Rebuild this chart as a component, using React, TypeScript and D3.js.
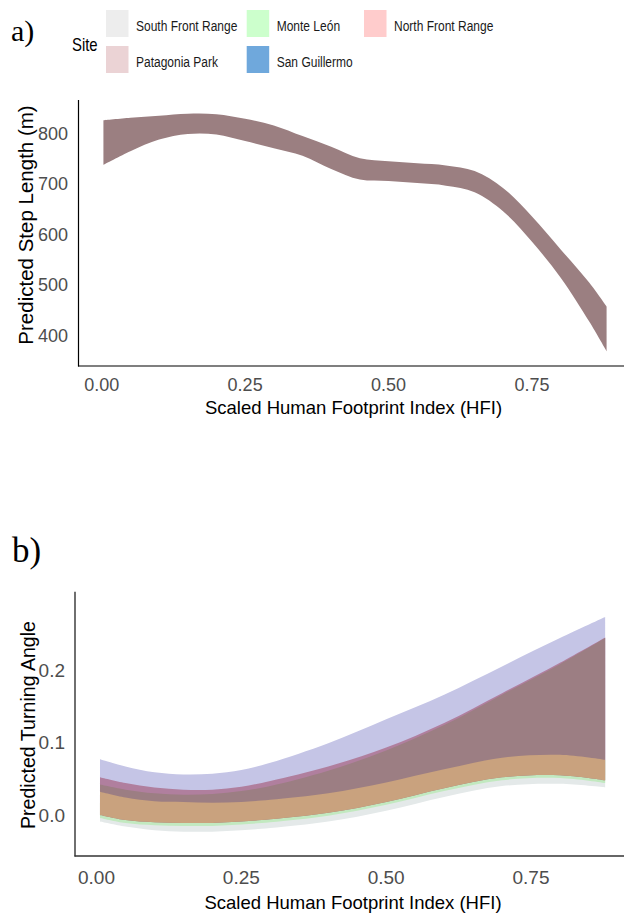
import React from "react";
import * as d3 from "d3";

// ---- legend ----
const sites = ["South Front Range", "Monte León", "North Front Range", "Patagonia Park", "San Guillermo"];
const siteColors = ["#EDEDED", "#CCFFCC", "#FFCCCC", "#EBD3D5", "#6FA8DC"];

// ---- panel a: step length ribbon ----
const hfiA = [0.003, 0.05, 0.1, 0.15, 0.2, 0.25, 0.3, 0.35, 0.4, 0.45, 0.5, 0.55, 0.6, 0.65, 0.7, 0.75, 0.8, 0.85, 0.88];
const stepUpper = [826, 831, 835, 839, 838, 829, 816, 795, 774, 751, 745, 741, 737, 726, 692, 636, 571, 505, 458];
const stepLower = [738, 765, 788, 799, 798, 785, 771, 756, 730, 709, 706, 702, 697, 684, 646, 586, 515, 428, 370];
const stepTicks = [400, 500, 600, 700, 800];

// ---- panel b: turning angle ribbons ----
const hfiB = [0.006, 0.05, 0.1, 0.15, 0.2, 0.25, 0.3, 0.4, 0.5, 0.6, 0.7, 0.8, 0.878];
const lavTop = [0.077, 0.067, 0.059, 0.056, 0.057, 0.062, 0.072, 0.099, 0.132, 0.166, 0.205, 0.244, 0.273];
const pinkTop = [0.052, 0.044, 0.038, 0.035, 0.035, 0.039, 0.047, 0.067, 0.093, 0.127, 0.168, 0.21, 0.245];
const mauveTop = [0.042, 0.035, 0.03, 0.028, 0.029, 0.033, 0.04, 0.061, 0.089, 0.124, 0.166, 0.208, 0.244];
const tanTop = [0.032, 0.024, 0.019, 0.018, 0.017, 0.018, 0.021, 0.03, 0.045, 0.063, 0.079, 0.083, 0.076];
const tanLow = [0.0, -0.007, -0.01, -0.011, -0.011, -0.009, -0.006, 0.003, 0.018, 0.037, 0.052, 0.055, 0.048];
const greenLow = [-0.004, -0.011, -0.014, -0.015, -0.015, -0.013, -0.01, -0.001, 0.014, 0.033, 0.048, 0.051, 0.044];
const greyLow = [-0.009, -0.016, -0.021, -0.023, -0.023, -0.021, -0.018, -0.009, 0.006, 0.025, 0.04, 0.043, 0.038];
const angleTicks = [0, 0.1, 0.2];

const hfiTicks = [0, 0.25, 0.5, 0.75];

const SANS = "'Liberation Sans', Arial, sans-serif";
const SERIF = "'Liberation Serif', 'Times New Roman', serif";
const TICK = "#4D4D4D";

type Pt = { x: number; lo: number; hi: number };
const zip = (xs: number[], lo: number[], hi: number[]): Pt[] => xs.map((x, i) => ({ x, lo: lo[i], hi: hi[i] }));

export default function App() {
  // scales panel a
  const xA = d3.scaleLinear().domain([0, 0.75]).range([101.7, 532]);
  const yA = d3.scaleLinear().domain([400, 800]).range([336, 133.5]);
  const areaA = d3
    .area<Pt>()
    .x((d) => xA(d.x))
    .y0((d) => yA(d.lo))
    .y1((d) => yA(d.hi))
    .curve(d3.curveCatmullRom.alpha(0.5));

  // scales panel b
  const xB = d3.scaleLinear().domain([0, 0.75]).range([96.5, 531]);
  const yB = d3.scaleLinear().domain([0, 0.2]).range([815, 670]);
  const areaB = d3
    .area<Pt>()
    .x((d) => xB(d.x))
    .y0((d) => yB(d.lo))
    .y1((d) => yB(d.hi))
    .curve(d3.curveCatmullRom.alpha(0.5));

  // layers back to front
  const layersB = [
    { fill: "#E4E9E9", data: zip(hfiB, greyLow, tanTop) },
    { fill: "#C2E9C0", data: zip(hfiB, greenLow, tanTop) },
    { fill: "#C5C5E6", data: zip(hfiB, tanTop, lavTop) },
    { fill: "#B07F9E", data: zip(hfiB, tanTop, pinkTop) },
    { fill: "#9C7E83", data: zip(hfiB, tanLow, mauveTop) },
    { fill: "#C9A27E", data: zip(hfiB, tanLow, tanTop) },
  ];

  const legendCols = [106, 246.7, 364];
  const legendRows = [10, 46];

  return (
    <div style={{ position: "absolute", left: 0, top: 0 }}>
      <svg width={624} height={913} style={{ display: "block", background: "#fff" }}>
        {/* panel labels */}
        <text x={11} y={40.5} fontFamily={SERIF} fontSize={30} fill="#000">a)</text>
        <text x={12} y={562} fontFamily={SERIF} fontSize={35} fill="#000">b)</text>

        {/* legend */}
        <text x={72} y={45} fontFamily={SANS} fontSize={17.5} dominantBaseline="central"
          transform="translate(72,0) scale(0.85,1) translate(-72,0)">Site</text>
        {sites.map((s, i) => {
          const col = i % 3;
          const row = Math.floor(i / 3);
          const kx = legendCols[col];
          const ky = legendRows[row];
          const tx = kx + 30;
          return (
            <g key={s}>
              <rect x={kx} y={ky} width={22.5} height={27} fill={siteColors[i]} />
              <text x={tx} y={ky + 16} fontFamily={SANS} fontSize={15} dominantBaseline="central"
                transform={`translate(${tx},0) scale(0.8,1) translate(${-tx},0)`} fill="#1a1a1a">{s}</text>
            </g>
          );
        })}

        {/* ---- panel a ---- */}
        <path d={areaA(zip(hfiA, stepLower, stepUpper)) || ""} fill="#9B7F81" />
        <line x1={78.5} x2={78.5} y1={100} y2={366.5} stroke="#000" strokeWidth={1.2} />
        <line x1={78} x2={624} y1={366} y2={366} stroke="#000" strokeWidth={1.2} />
        {stepTicks.map((t) => (
          <text key={t} x={68} y={yA(t)} textAnchor="end" dominantBaseline="central"
            fontFamily={SANS} fontSize={18} fill={TICK}>{t}</text>
        ))}
        {hfiTicks.map((t) => (
          <text key={t} x={xA(t)} y={385} textAnchor="middle" dominantBaseline="central"
            fontFamily={SANS} fontSize={18} fill={TICK}>{t.toFixed(2)}</text>
        ))}
        <text x={353.5} y={407} textAnchor="middle" dominantBaseline="central"
          fontFamily={SANS} fontSize={18.5} fill="#000">Scaled Human Footprint Index (HFI)</text>
        <text transform="translate(25,225) rotate(-90)" textAnchor="middle" dominantBaseline="central"
          fontFamily={SANS} fontSize={20.5} fill="#000">Predicted Step Length (m)</text>

        {/* ---- panel b ---- */}
        {layersB.map((l, i) => (
          <path key={i} d={areaB(l.data) || ""} fill={l.fill} />
        ))}
        <line x1={75} x2={75} y1={591.7} y2={856.5} stroke="#333" strokeWidth={1.4} />
        <line x1={74.5} x2={624} y1={856} y2={856} stroke="#333" strokeWidth={1.4} />
        {angleTicks.map((t) => (
          <text key={t} x={65} y={yB(t)} textAnchor="end" dominantBaseline="central"
            fontFamily={SANS} fontSize={19} fill={TICK}>{t.toFixed(1)}</text>
        ))}
        {hfiTicks.map((t) => (
          <text key={t} x={xB(t)} y={877} textAnchor="middle" dominantBaseline="central"
            fontFamily={SANS} fontSize={19} fill={TICK}>{t.toFixed(2)}</text>
        ))}
        <text x={353} y={902} textAnchor="middle" dominantBaseline="central"
          fontFamily={SANS} fontSize={18.5} fill="#000">Scaled Human Footprint Index (HFI)</text>
        <text transform="translate(28,725) rotate(-90)" textAnchor="middle" dominantBaseline="central"
          fontFamily={SANS} fontSize={19.6} fill="#000">Predicted Turning Angle</text>
      </svg>
    </div>
  );
}
